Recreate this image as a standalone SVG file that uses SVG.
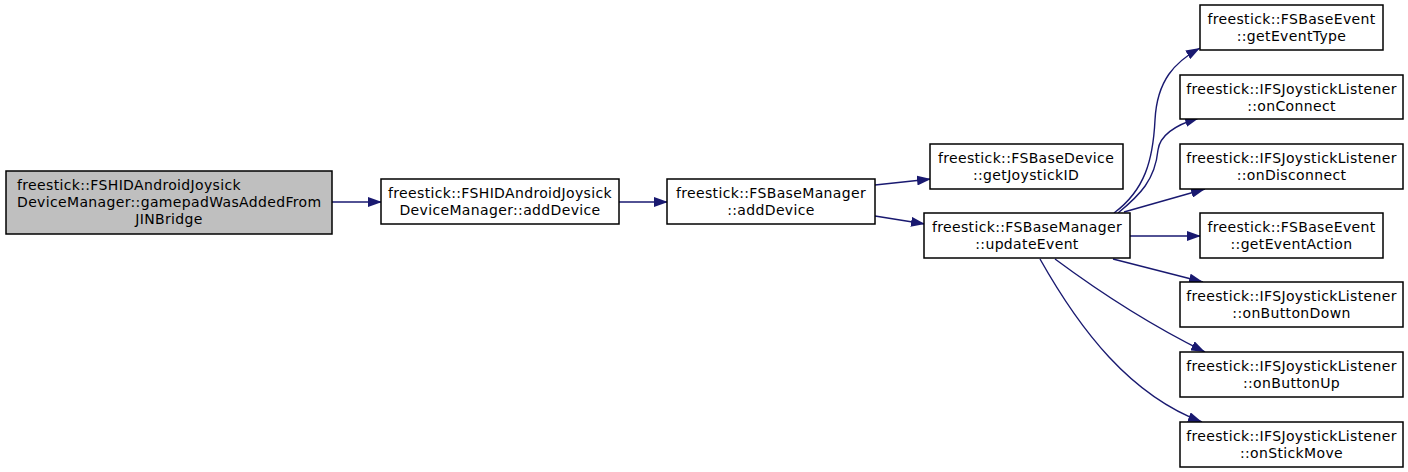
<svg xmlns="http://www.w3.org/2000/svg" width="1408" height="472" viewBox="0 0 1408 472">
<style>
.n rect{fill:#fff;stroke:#000;stroke-width:1.5}
.n.root rect{fill:#bfbfbf}
text{font-family:"DejaVu Sans","Liberation Sans",sans-serif;font-size:14px;letter-spacing:0.35px;fill:#000}
.c{text-anchor:middle}
.e path{fill:none;stroke:#191970;stroke-width:1.4;marker-end:url(#ah)}
</style>
<defs>
<marker id="ah" markerUnits="userSpaceOnUse" markerWidth="14" markerHeight="10" refX="14" refY="5" orient="auto">
<path d="M0,0 L14,5 L0,10 z" fill="#191970"/>
</marker>
</defs>
<g id="edges" class="e">
<path d="M332,202 L382,202"/>
<path d="M619,202 L668,202"/>
<path d="M875,185 L931,179"/>
<path d="M875,216 L925,224"/>
<path d="M1114,213 C1145,190 1153,160 1155,120 C1157,80 1175,62 1200,48"/>
<path d="M1118,213 C1140,195 1155,180 1158,150 C1160,135 1175,125 1199,118"/>
<path d="M1124,212 L1205,189"/>
<path d="M1130,236 L1201,236"/>
<path d="M1113,259 L1203,282"/>
<path d="M1055,259 C1090,285 1140,320 1205,352"/>
<path d="M1040,259 C1080,330 1130,395 1202,422"/>
</g>
<g id="n_gamepadWasAddedFromJINBridge" class="n root">
<rect x="6" y="171" width="326" height="63"/>
<text x="17" y="190">freestick::FSHIDAndroidJoysick</text>
<text x="17" y="207">DeviceManager::gamepadWasAddedFrom</text>
<text x="169" y="224" class="c">JINBridge</text>
</g>
<g id="n_hid_addDevice" class="n">
<rect x="381" y="179" width="238" height="45"/>
<text x="500" y="198" class="c">freestick::FSHIDAndroidJoysick</text>
<text x="500" y="215" class="c">DeviceManager::addDevice</text>
</g>
<g id="n_base_addDevice" class="n">
<rect x="667" y="179" width="208" height="45"/>
<text x="771" y="198" class="c">freestick::FSBaseManager</text>
<text x="771" y="215" class="c">::addDevice</text>
</g>
<g id="n_getJoystickID" class="n">
<rect x="930" y="144" width="193" height="45"/>
<text x="1026" y="163" class="c">freestick::FSBaseDevice</text>
<text x="1026" y="180" class="c">::getJoystickID</text>
</g>
<g id="n_updateEvent" class="n">
<rect x="924" y="213" width="206" height="45"/>
<text x="1027" y="232" class="c">freestick::FSBaseManager</text>
<text x="1027" y="249" class="c">::updateEvent</text>
</g>
<g id="n_getEventType" class="n">
<rect x="1200" y="5" width="183" height="45"/>
<text x="1291.5" y="24" class="c">freestick::FSBaseEvent</text>
<text x="1291.5" y="41" class="c">::getEventType</text>
</g>
<g id="n_onConnect" class="n">
<rect x="1180" y="75" width="223" height="44"/>
<text x="1291.5" y="94" class="c">freestick::IFSJoystickListener</text>
<text x="1291.5" y="111" class="c">::onConnect</text>
</g>
<g id="n_onDisconnect" class="n">
<rect x="1180" y="144" width="223" height="45"/>
<text x="1291.5" y="163" class="c">freestick::IFSJoystickListener</text>
<text x="1291.5" y="180" class="c">::onDisconnect</text>
</g>
<g id="n_getEventAction" class="n">
<rect x="1200" y="213" width="183" height="45"/>
<text x="1291.5" y="232" class="c">freestick::FSBaseEvent</text>
<text x="1291.5" y="249" class="c">::getEventAction</text>
</g>
<g id="n_onButtonDown" class="n">
<rect x="1180" y="282" width="223" height="45"/>
<text x="1291.5" y="301" class="c">freestick::IFSJoystickListener</text>
<text x="1291.5" y="318" class="c">::onButtonDown</text>
</g>
<g id="n_onButtonUp" class="n">
<rect x="1180" y="352" width="223" height="45"/>
<text x="1291.5" y="371" class="c">freestick::IFSJoystickListener</text>
<text x="1291.5" y="388" class="c">::onButtonUp</text>
</g>
<g id="n_onStickMove" class="n">
<rect x="1180" y="422" width="223" height="45"/>
<text x="1291.5" y="441" class="c">freestick::IFSJoystickListener</text>
<text x="1291.5" y="458" class="c">::onStickMove</text>
</g>
</svg>
